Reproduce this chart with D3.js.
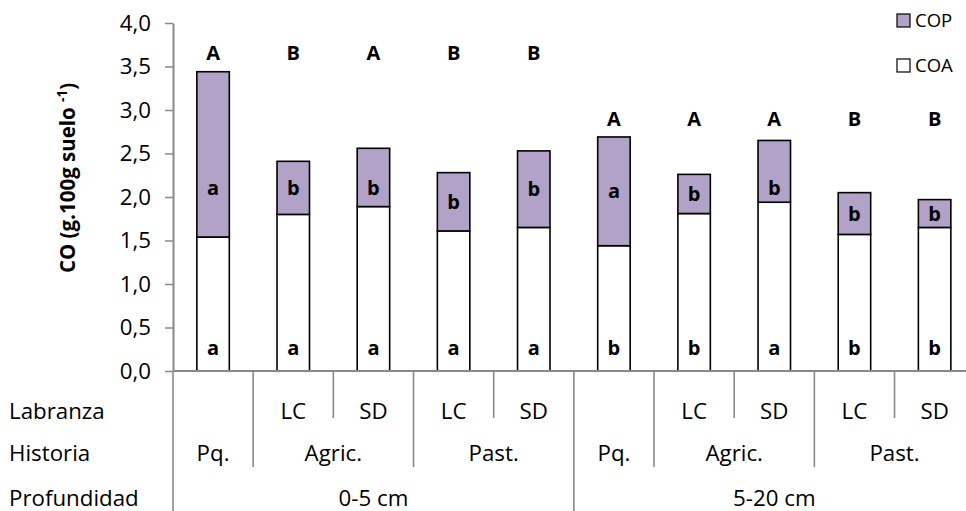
<!DOCTYPE html>
<html>
<head>
<meta charset="utf-8">
<script src="https://cdnjs.cloudflare.com/ajax/libs/d3/7.8.5/d3.min.js"></script>
<style>
  html, body { margin: 0; padding: 0; background: #fff; }
  svg { display: block; }
  text { font-family: "Open Sans", "Noto Sans", sans-serif; fill: #000; }
</style>
</head>
<body>
<svg id="chart" width="966" height="511"></svg>
<script>
// ---- data ----
const profundidad = ["0-5 cm","0-5 cm","0-5 cm","0-5 cm","0-5 cm","5-20 cm","5-20 cm","5-20 cm","5-20 cm","5-20 cm"];
const historia    = ["Pq.","Agric.","Agric.","Past.","Past.","Pq.","Agric.","Agric.","Past.","Past."];
const labranza    = ["","LC","SD","LC","SD","","LC","SD","LC","SD"];
const coa = [1.54, 1.80, 1.89, 1.61, 1.65, 1.44, 1.81, 1.94, 1.57, 1.65];
const cop = [1.90, 0.61, 0.67, 0.67, 0.88, 1.25, 0.45, 0.71, 0.48, 0.32];
const totalLetters = ["A","B","A","B","B","A","A","A","B","B"];
const copLetters   = ["a","b","b","b","b","a","b","b","b","b"];
const coaLetters   = ["a","a","a","a","a","b","b","a","b","b"];
const yTicks = [0, 0.5, 1, 1.5, 2, 2.5, 3, 3.5, 4];
const rowTitles = ["Labranza", "Historia", "Profundidad"];
const seriesNames = ["COP", "COA"];

(function () {
// ---- layout ----
const svg = d3.select("#chart");
const plotLeft = 173, plotTop = 23, plotBottom = 371, step = 80.17;
const n = coa.length;
const idx = d3.range(n);
const x = d3.scaleBand().domain(idx).range([plotLeft, plotLeft + step * n]).padding(0);
const y = d3.scaleLinear().domain([0, 4]).range([plotBottom, plotTop]);
const barW = x.bandwidth() * 0.405;
const gray = "#898989";
const copColor = "#b3a2c7";
const labelSize = 22.3, letterSize = 20;

// ---- bars ----
const g = svg.append("g");
g.selectAll("rect.coa").data(idx).join("rect")
  .attr("x", i => x(i) + (x.bandwidth() - barW) / 2)
  .attr("width", barW)
  .attr("y", i => y(coa[i]))
  .attr("height", i => y(0) - y(coa[i]))
  .attr("fill", "#fff").attr("stroke", "#000").attr("stroke-width", 1.6);
g.selectAll("rect.cop").data(idx).join("rect")
  .attr("x", i => x(i) + (x.bandwidth() - barW) / 2)
  .attr("width", barW)
  .attr("y", i => y(coa[i] + cop[i]))
  .attr("height", i => y(coa[i]) - y(coa[i] + cop[i]))
  .attr("fill", copColor).attr("stroke", "#000").attr("stroke-width", 1.6);

// ---- letters ----
const cx = i => x(i) + x.bandwidth() / 2;
const upperLevel = { "0-5 cm": 3.575, "5-20 cm": 2.82 };
g.selectAll("text.up").data(idx).join("text")
  .attr("x", cx).attr("y", i => y(upperLevel[profundidad[i]]))
  .attr("text-anchor", "middle").attr("font-weight", 700).attr("font-size", letterSize)
  .text(i => totalLetters[i]);
g.selectAll("text.cop").data(idx).join("text")
  .attr("x", cx).attr("y", i => y(Math.min(coa[i] + cop[i] / 2, 2.1)) + 7)
  .attr("text-anchor", "middle").attr("font-weight", 700).attr("font-size", letterSize)
  .text(i => copLetters[i]);
g.selectAll("text.coa").data(idx).join("text")
  .attr("x", cx).attr("y", y(0.18))
  .attr("text-anchor", "middle").attr("font-weight", 700).attr("font-size", letterSize)
  .text(i => coaLetters[i]);

// ---- y axis ----
const yAxis = svg.append("g").attr("transform", `translate(${plotLeft},0)`)
  .call(d3.axisLeft(y).tickValues(yTicks).tickSize(8).tickSizeOuter(0).tickPadding(14)
        .tickFormat(d => d.toFixed(1).replace(".", ",")));
yAxis.select(".domain").attr("stroke", gray).attr("stroke-width", 2);
yAxis.selectAll(".tick line").attr("stroke", gray).attr("stroke-width", 1.5);
yAxis.selectAll(".tick text").attr("font-size", labelSize).attr("font-family", "Open Sans").attr("fill", "#000");

// x axis line
svg.append("line").attr("x1", plotLeft).attr("x2", plotLeft + step * n)
  .attr("y1", plotBottom).attr("y2", plotBottom).attr("stroke", gray).attr("stroke-width", 2);

// ---- category separators ----
const sepEnds = { lab: 418, hist: 467, prof: 511 };
const bounds = d3.range(n + 1).map(i => {
  let level;
  if (i === 0 || i === n || profundidad[i] !== profundidad[i - 1]) level = "prof";
  else if (historia[i] !== historia[i - 1]) level = "hist";
  else level = "lab";
  return { xPos: plotLeft + step * i, y2: sepEnds[level] };
});
svg.selectAll("line.sep").data(bounds).join("line")
  .attr("x1", d => d.xPos).attr("x2", d => d.xPos)
  .attr("y1", plotBottom).attr("y2", d => d.y2)
  .attr("stroke", gray).attr("stroke-width", 1.6);

// ---- category labels ----
function runs(keys, labels) {
  const out = [];
  keys.forEach((k, i) => {
    const last = out[out.length - 1];
    if (last && last.key === k) last.end = i;
    else out.push({ key: k, label: labels[i], start: i, end: i });
  });
  return out;
}
const rowBase = [419, 460.5, 505.5];
const labRuns = runs(idx.map(i => i), labranza);
const histRuns = runs(idx.map(i => profundidad[i] + "|" + historia[i]), historia);
const profRuns = runs(profundidad, profundidad);
[labRuns, histRuns, profRuns].forEach((rs, r) => {
  svg.selectAll(null).data(rs).join("text")
    .attr("x", d => (x(d.start) + x(d.end) + x.bandwidth()) / 2)
    .attr("y", rowBase[r])
    .attr("text-anchor", "middle").attr("font-size", labelSize)
    .text(d => d.label);
});
svg.selectAll("text.rowt").data(rowTitles).join("text")
  .attr("x", 9).attr("y", (d, r) => rowBase[r])
  .attr("font-size", labelSize).text(d => d);

// ---- y title ----
const yt = svg.append("text")
  .attr("transform", "translate(75,178) rotate(-90)")
  .attr("text-anchor", "middle").attr("font-weight", 700).attr("font-size", 20.5);
yt.append("tspan").text("CO (g.100g suelo ");
yt.append("tspan").attr("font-size", 13.5).attr("dy", -8).text("-1");
yt.append("tspan").attr("dy", 8).text(")");

// ---- legend ----
const legend = svg.append("g");
const legCenters = [20.5, 65.5];
seriesNames.forEach((name, k) => {
  legend.append("rect").attr("x", 897).attr("y", legCenters[k] - 6.5)
    .attr("width", 13).attr("height", 13)
    .attr("fill", name === "COP" ? copColor : "#fff").attr("stroke", "#000").attr("stroke-width", 1.2);
  legend.append("text").attr("x", 915).attr("y", legCenters[k] + 6.6)
    .attr("font-size", 18.5).text(name);
});
})();
</script>
</body>
</html>
